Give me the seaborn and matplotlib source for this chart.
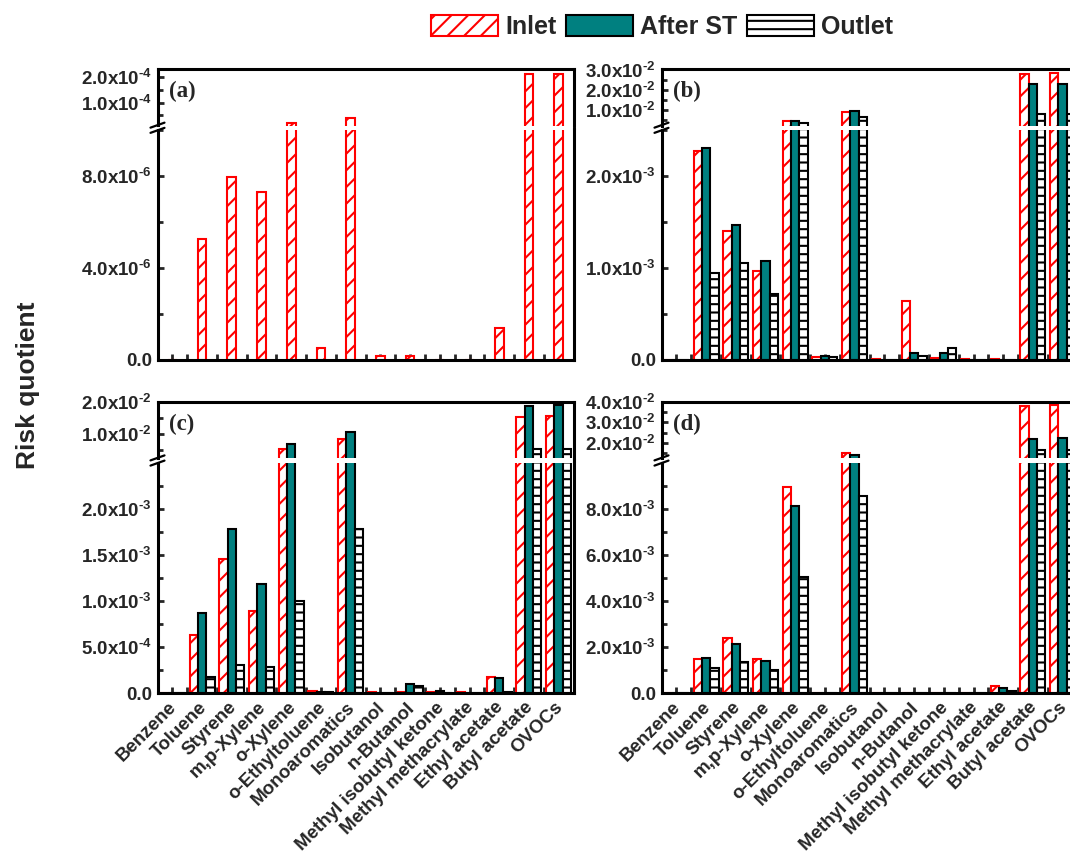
import numpy as np
import pandas as pd
import matplotlib
matplotlib.use("Agg")
import matplotlib.pyplot as plt
import seaborn as sns
from matplotlib.patches import Patch
from matplotlib.lines import Line2D
from matplotlib.ticker import FixedLocator, FuncFormatter
from matplotlib.transforms import ScaledTranslation

# ---------------- data ----------------
categories = ["Benzene", "Toluene", "Styrene", "m,p-Xylene", "o-Xylene",
              "o-Ethyltoluene", "Monoaromatics", "Isobutanol", "n-Butanol",
              "Methyl isobutyl ketone", "Methyl methacrylate", "Ethyl acetate",
              "Butyl acetate", "OVOCs"]
series = ["Inlet", "After ST", "Outlet"]

a_inlet = [0, 5.25e-6, 7.94e-6, 7.3e-6, 2.0e-5, 4.8e-7, 4.1e-5, 1.6e-7, 1.6e-7,
           0, 0, 1.38e-6, 2.12e-4, 2.14e-4]

b_inlet = [0, 2.27e-3, 1.40e-3, 9.6e-4, 4.7e-3, 3e-5, 9.3e-3, 1e-5, 6.4e-4,
           1.3e-5, 1e-5, 1e-5, 2.78e-2, 2.84e-2]
b_after = [0, 2.30e-3, 1.47e-3, 1.07e-3, 4.86e-3, 4e-5, 9.8e-3, 0, 7.4e-5,
           7.4e-5, 0, 0, 2.29e-2, 2.29e-2]
b_outlet = [0, 9.4e-4, 1.05e-3, 7.1e-4, 3.6e-3, 3e-5, 6.5e-3, 0, 3.8e-5,
            1.29e-4, 0, 0, 8.0e-3, 8.0e-3]

c_inlet = [0, 6.36e-4, 1.46e-3, 8.9e-4, 5.3e-3, 2e-5, 8.4e-3, 1e-5, 1e-5,
           1e-5, 1e-5, 1.8e-4, 1.53e-2, 1.56e-2]
c_after = [0, 8.68e-4, 1.78e-3, 1.19e-3, 6.8e-3, 1e-5, 1.05e-2, 0, 1.0e-4,
           2e-5, 0, 1.7e-4, 1.88e-2, 1.92e-2]
c_outlet = [0, 1.8e-4, 3.1e-4, 2.9e-4, 1.0e-3, 1e-5, 1.78e-3, 0, 8e-5,
            0, 0, 1e-5, 5.3e-3, 5.3e-3]

d_inlet = [0, 1.48e-3, 2.41e-3, 1.48e-3, 8.94e-3, 1e-5, 1.48e-2, 1e-5, 1e-5,
           1e-5, 1e-5, 3.2e-4, 3.80e-2, 3.84e-2]
d_after = [0, 1.55e-3, 2.16e-3, 1.42e-3, 8.14e-3, 0, 1.40e-2, 0, 2e-5,
           0, 0, 2.2e-4, 2.2e-2, 2.23e-2]
d_outlet = [0, 1.09e-3, 1.38e-3, 1.02e-3, 5.07e-3, 0, 8.55e-3, 0, 1e-5,
            0, 0, 1.0e-4, 1.65e-2, 1.65e-2]

# broken-axis ranges and tick values (lower segment, upper segment)
a_lo, a_up = (0, 1.0e-5), (1.0e-5, 2.3e-4)
b_lo, b_up = (0, 2.5e-3), (2.5e-3, 3.0e-2)
c_lo, c_up = (0, 2.5e-3), (2.5e-3, 2.0e-2)
d_lo, d_up = (0, 1.0e-2), (1.25e-2, 4.0e-2)

a_lo_major, a_lo_minor = [0, 4e-6, 8e-6], [2e-6, 6e-6, 1e-5]
a_up_major, a_up_minor = [1e-4, 2e-4], [5e-5, 1.5e-4]
b_lo_major, b_lo_minor = [0, 1e-3, 2e-3], [5e-4, 1.5e-3, 2.5e-3]
b_up_major, b_up_minor = [1e-2, 2e-2, 3e-2], [5e-3, 1.5e-2, 2.5e-2]
c_lo_major = [0, 5e-4, 1e-3, 1.5e-3, 2e-3]
c_lo_minor = [2.5e-4, 7.5e-4, 1.25e-3, 1.75e-3, 2.25e-3]
c_up_major, c_up_minor = [1e-2, 2e-2], [5e-3, 1.5e-2]
d_lo_major = [0, 2e-3, 4e-3, 6e-3, 8e-3]
d_lo_minor = [1e-3, 3e-3, 5e-3, 7e-3, 9e-3]
d_up_major, d_up_minor = [2e-2, 3e-2, 4e-2], [1.5e-2, 2.5e-2, 3.5e-2]

# ---------------- style ----------------
sns.set_style("ticks")
plt.rcParams["font.family"] = ["Liberation Sans", "DejaVu Sans"]
plt.rcParams["font.weight"] = "bold"
plt.rcParams["mathtext.fontset"] = "custom"
plt.rcParams["mathtext.rm"] = "Liberation Sans:bold"
plt.rcParams["mathtext.it"] = "Liberation Sans:bold"
plt.rcParams["mathtext.bf"] = "Liberation Sans:bold"
plt.rcParams["hatch.linewidth"] = 1.5
plt.rcParams["axes.linewidth"] = 2.2

TEAL = "#008080"
palette = {"Inlet": "white", "After ST": TEAL, "Outlet": "white"}
edges = {"Inlet": "red", "After ST": "black", "Outlet": "black"}
hatches = {"Inlet": "//", "After ST": "", "Outlet": "--"}

W, H = 1070, 852
fig = plt.figure(figsize=(W / 100, H / 100), dpi=100)


def rect(l, t, r, b):
    return [l / W, 1 - b / H, (r - l) / W, (b - t) / H]


def fmt(v, pos=None):
    if abs(v) < 1e-15:
        return "0.0"
    e = int(np.floor(np.log10(v) + 1e-9))
    m = v / 10 ** e
    return f"{m:.1f}x10$^{{\\text{{{e}}}}}$"


def make_df(vals_list):
    rows = []
    for s, vals in zip(series, vals_list):
        for c, v in zip(categories, vals):
            rows.append({"Category": c, "Series": s, "Value": v})
    return pd.DataFrame(rows)


def draw_bars(ax, df, single):
    if single:
        sns.barplot(data=df, x="Category", y="Value", order=categories,
                    color="white", width=0.29, saturation=1, errorbar=None,
                    linewidth=1.5, edgecolor="red", ax=ax)
        for p in ax.patches:
            p.set_edgecolor("red")
            p.set_hatch("//")
    else:
        sns.barplot(data=df, x="Category", y="Value", hue="Series",
                    order=categories, hue_order=series, palette=palette,
                    width=0.84, saturation=1, errorbar=None, linewidth=1.5,
                    edgecolor="black", legend=False, ax=ax)
        for cont, s in zip(ax.containers, series):
            for p in cont:
                p.set_edgecolor(edges[s])
                p.set_hatch(hatches[s])
    ax.set_xlabel("")
    ax.set_ylabel("")
    ax.set_xlim(-0.5, 13.5)


def style_y(ax, major, minor):
    ax.yaxis.set_major_locator(FixedLocator(major))
    ax.yaxis.set_minor_locator(FixedLocator(minor))
    ax.yaxis.set_major_formatter(FuncFormatter(fmt))
    ax.tick_params(axis="y", which="major", direction="in", length=4,
                   width=2, labelsize=13.5, pad=4, left=True, right=False)
    ax.tick_params(axis="y", which="minor", direction="in", length=3.5,
                   width=2, left=True, right=False)


def panel(x0, x1, yt, yb_up, yt_lo, yb, vals, single, lo, up,
          lo_ticks, up_ticks, label, xlabels):
    ax_up = fig.add_axes(rect(x0, yt, x1, yb_up))
    ax_lo = fig.add_axes(rect(x0, yt_lo, x1, yb))
    df = make_df(vals) if not single else pd.DataFrame(
        {"Category": categories, "Value": vals[0]})
    for ax in (ax_up, ax_lo):
        draw_bars(ax, df, single)
        for sp in ax.spines.values():
            sp.set_linewidth(2.2)
            sp.set_color("black")
    ax_up.set_ylim(*up)
    ax_lo.set_ylim(*lo)
    # bars that end below the upper segment are not shown there
    for p in ax_up.patches:
        if p.get_y() + p.get_height() < up[0]:
            p.set_visible(False)
    style_y(ax_up, *up_ticks)
    style_y(ax_lo, *lo_ticks)
    ax_up.spines["bottom"].set_visible(False)
    ax_lo.spines["top"].set_visible(False)
    ax_up.tick_params(axis="x", which="both", bottom=False, top=False,
                      labelbottom=False)
    ax_lo.xaxis.set_major_locator(FixedLocator(np.arange(len(categories))))
    ax_lo.xaxis.set_minor_locator(FixedLocator(np.arange(len(categories) - 1) + 0.5))
    ax_lo.tick_params(axis="x", which="both", direction="in", length=4,
                      width=2, bottom=True, top=False)
    if xlabels:
        ax_lo.set_xticklabels(categories, rotation=45, ha="right",
                              rotation_mode="anchor", fontsize=13.5,
                              fontweight="bold")
        ax_lo.tick_params(axis="x", pad=4)
        shift = ScaledTranslation(-3 / 72, 0, fig.dpi_scale_trans)
        for lbl in ax_lo.get_xticklabels():
            lbl.set_transform(lbl.get_transform() + shift)
    else:
        ax_lo.tick_params(axis="x", labelbottom=False)
    ax_up.text(0.027, 0.6, label, transform=ax_up.transAxes,
               family=["Liberation Serif", "DejaVu Serif"], weight="bold",
               fontsize=16.5, ha="left", va="center")
    # break marks on left spine
    yc = (yb_up + yt_lo) / 2
    for d in (-2.6, 2.6):
        fig.add_artist(Line2D([(x0 - 7) / W, (x0 + 7) / W],
                              [1 - (yc + d + 2.5) / H, 1 - (yc + d - 2.5) / H],
                              transform=fig.transFigure, color="black", lw=1.6))
    # continuous right spine through the gap
    fig.add_artist(Line2D([x1 / W, x1 / W], [1 - (yb_up + 1) / H, 1 - (yt_lo - 1) / H],
                          transform=fig.transFigure, color="black", lw=2.2))


XL0, XL1 = 157.5, 573.5
XR0, XR1 = 661.5, 1077.5

panel(XL0, XL1, 69.5, 125.5, 130, 359.5, [a_inlet], True, a_lo, a_up,
      (a_lo_major, a_lo_minor), (a_up_major, a_up_minor), "(a)", False)
panel(XR0, XR1, 69.5, 125.5, 130, 359.5, [b_inlet, b_after, b_outlet], False,
      b_lo, b_up, (b_lo_major, b_lo_minor), (b_up_major, b_up_minor), "(b)", False)
panel(XL0, XL1, 402, 458, 463, 693.3, [c_inlet, c_after, c_outlet], False,
      c_lo, c_up, (c_lo_major, c_lo_minor), (c_up_major, c_up_minor), "(c)", True)
panel(XR0, XR1, 402, 458, 463, 693.3, [d_inlet, d_after, d_outlet], False,
      d_lo, d_up, (d_lo_major, d_lo_minor), (d_up_major, d_up_minor), "(d)", True)

fig.text(28 / W, 1 - 385 / H, "Risk quotient", rotation=90, fontsize=19,
         fontweight="bold", ha="center", va="center")

handles = [Patch(facecolor="white", edgecolor=edges[s], hatch=hatches[s], lw=1.5)
           if s != "After ST" else
           Patch(facecolor=TEAL, edgecolor="black", lw=1.5) for s in series]
fig.legend(handles, series, loc="center", bbox_to_anchor=(662 / W, 1 - 27 / H),
           ncol=3, frameon=False, prop={"size": 18, "weight": "bold"},
           handlelength=2.7, handleheight=0.95, handletextpad=0.3,
           columnspacing=0.35, borderaxespad=0)

fig.savefig("out.png", dpi=100)
